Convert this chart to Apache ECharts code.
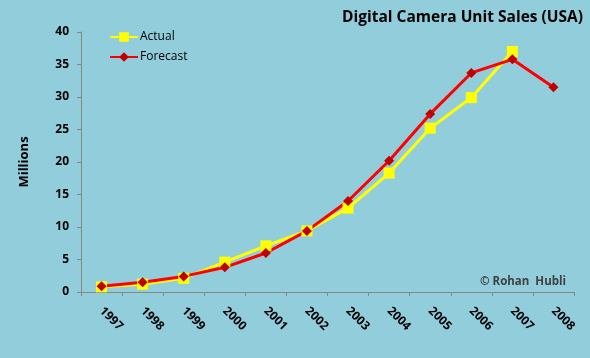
<!DOCTYPE html>
<html><head><meta charset="utf-8">
<script src="https://cdn.jsdelivr.net/npm/echarts@6/dist/echarts.min.js"></script>
<style>html,body{margin:0;padding:0;background:#fff}#c{width:590px;height:358px;}</style>
</head><body><div id="c"></div>
<script>
const years = ['1997','1998','1999','2000','2001','2002','2003','2004','2005','2006','2007','2008'];
const actual = [0.8, 1.2, 2.1, 4.6, 7.1, 9.4, 12.9, 18.3, 25.2, 29.9, 37.0, null];
const forecast = [0.9, 1.5, 2.4, 3.8, 6.0, 9.4, 14.0, 20.2, 27.4, 33.7, 35.8, 31.5];
const yTicks = {min: 0, max: 40, interval: 5};
const font = '"Open Sans", "DejaVu Sans", sans-serif';
const chart = echarts.init(document.getElementById('c'));
chart.setOption({
  backgroundColor: '#92CDDC',
  animation: false,
  title: {
    text: 'Digital Camera Unit Sales (USA)',
    right: 2, top: 5,
    textStyle: {fontFamily: font, fontSize: 15.5, fontWeight: 'bold', color: '#000'}
  },
  legend: {
    orient: 'vertical', left: 109, top: 31, padding: 0, itemGap: 8, itemWidth: 28, itemHeight: 12,
    textStyle: {fontFamily: font, fontSize: 12, color: '#000', padding: [0, 0, 0, -3]},
    data: ['Actual', 'Forecast']
  },
  grid: {left: 81, top: 32, right: 16, bottom: 66},
  xAxis: {
    type: 'category', data: years, boundaryGap: true,
    axisLine: {lineStyle: {color: '#868686', width: 1}},
    axisTick: {show: true, length: 4, lineStyle: {color: '#868686'}},
    axisLabel: {rotate: -45, fontFamily: font, fontSize: 12, fontWeight: 'bold', color: '#000', margin: 17, interval: 0}
  },
  yAxis: {
    type: 'value', min: yTicks.min, max: yTicks.max, interval: yTicks.interval,
    name: 'Millions', nameLocation: 'middle', nameGap: 50, nameRotate: 90,
    nameTextStyle: {fontFamily: font, fontSize: 13, fontWeight: 'bold', color: '#000'},
    splitLine: {show: false},
    axisLine: {show: true, lineStyle: {color: '#868686', width: 1}},
    axisTick: {show: true, length: 4, lineStyle: {color: '#868686'}},
    axisLabel: {fontFamily: font, fontSize: 12, fontWeight: 'bold', color: '#000', margin: 12}
  },
  graphic: [{
    type: 'text', right: 24, top: 276,
    style: {text: '© Rohan  Hubli', fontFamily: font, fontSize: 11.5, fontWeight: 'bold', fill: '#404040'}
  }],
  series: [{
    name: 'Actual', type: 'line', data: actual,
    symbol: 'rect', symbolSize: 11, showAllSymbol: true,
    lineStyle: {color: '#FFFF00', width: 3},
    itemStyle: {color: '#FFFF00'}
  }, {
    name: 'Forecast', type: 'line', data: forecast,
    symbol: 'diamond', symbolSize: 10, showAllSymbol: true,
    lineStyle: {color: '#FF0000', width: 3},
    itemStyle: {color: '#C00000'}
  }]
});
</script></body></html>
